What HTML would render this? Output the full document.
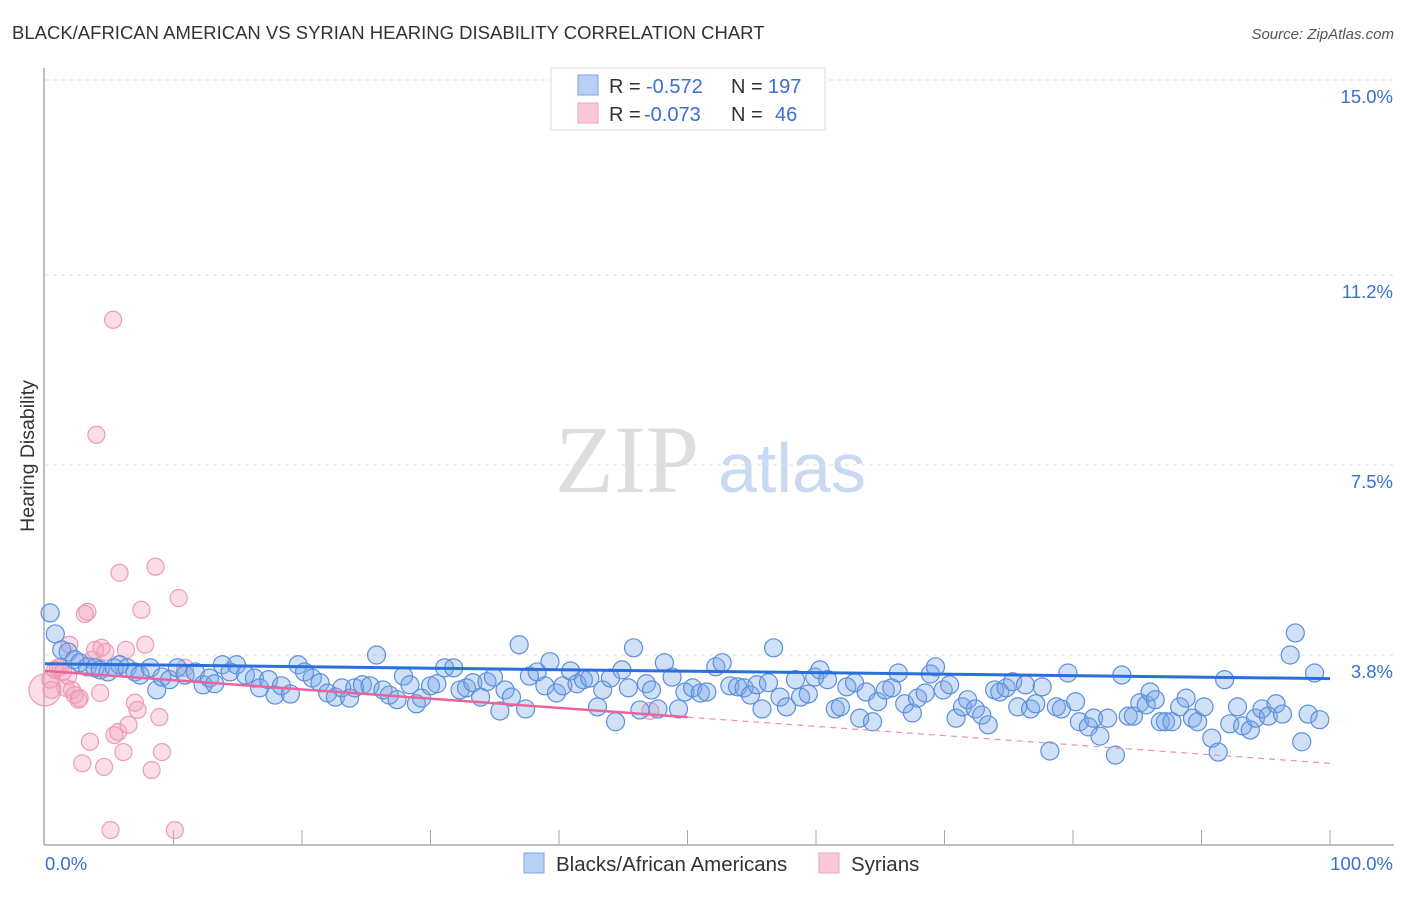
<!DOCTYPE html>
<html><head><meta charset="utf-8"><style>
body{margin:0;background:#fff;font-family:"Liberation Sans",sans-serif}
svg text{font-family:"Liberation Sans",sans-serif}
</style></head><body>
<svg id="chart" width="1406" height="892" xmlns="http://www.w3.org/2000/svg">
<text x="12" y="39" font-size="18.5" fill="#333">BLACK/AFRICAN AMERICAN VS SYRIAN HEARING DISABILITY CORRELATION CHART</text>
<text x="1394" y="39" font-size="15" fill="#555" font-style="italic" text-anchor="end">Source: ZipAtlas.com</text>
<text x="34" y="456" font-size="19.5" fill="#333" text-anchor="middle" transform="rotate(-90 34 456)">Hearing Disability</text>
<g><text x="555" y="492" font-size="96" fill="#ddd" font-family="Liberation Serif" style="font-family:'Liberation Serif',serif">ZIP</text><text x="718" y="492" font-size="70" fill="#c9d9f2">atlas</text></g>
<g id="grid"></g><g id="axes"></g><g id="pink"></g><g id="blue"></g><g id="lines"></g>
<g>
<rect x="551" y="68" width="274" height="62" fill="#fff" stroke="#ddd"/>
<rect x="578" y="75" width="20" height="20" fill="#b7d0f3" stroke="#7ea6e0"/>
<rect x="578" y="103" width="20" height="20" fill="#f9c9d8" stroke="#eea3bc"/>
<text x="609" y="93" font-size="20" fill="#333">R =</text><text x="646" y="93" font-size="20" fill="#3a6fd0">-0.572</text>
<text x="731" y="93" font-size="20" fill="#333">N =</text><text x="768" y="93" font-size="20" fill="#3a6fd0">197</text>
<text x="609" y="121" font-size="20" fill="#333">R =</text><text x="644" y="121" font-size="20" fill="#3a6fd0">-0.073</text>
<text x="731" y="121" font-size="20" fill="#333">N =</text><text x="775" y="121" font-size="20" fill="#3a6fd0">46</text>
</g>
<g>
<rect x="524" y="853" width="20" height="20" fill="#b7d0f3" stroke="#7ea6e0"/>
<text x="556" y="871" font-size="20.5" fill="#333">Blacks/African Americans</text>
<rect x="819" y="853" width="20" height="20" fill="#f9c9d8" stroke="#eea3bc"/>
<text x="851" y="871" font-size="20.5" fill="#333">Syrians</text>
</g>
</svg>
<script>
const yTicks=[15.0,11.2,7.5,3.8];
const yTickLabels=["15.0%","11.2%","7.5%","3.8%"];
const xTickLabels=["0.0%","100.0%"];
const blueX=[0.4,0.8,1.3,1.8,2.3,2.7,3.3,3.9,4.3,4.9,5.4,5.8,6.4,7.0,7.4,8.2,8.7,9.1,9.7,10.3,10.9,11.7,12.3,12.8,13.2,13.8,14.4,14.9,15.6,16.3,16.7,17.4,17.9,18.4,19.1,19.7,20.2,20.8,21.4,22.0,22.6,23.1,23.7,24.1,24.7,25.3,25.8,26.3,26.8,27.4,27.9,28.4,28.9,29.3,30.0,30.5,31.1,31.8,32.3,32.8,33.3,33.9,34.4,34.9,35.4,35.8,36.3,36.9,37.4,37.7,38.3,38.9,39.3,39.8,40.3,40.9,41.4,41.9,42.4,43.0,43.4,44.0,44.4,44.9,45.4,45.8,46.3,46.8,47.2,47.7,48.2,48.8,49.3,49.8,50.4,51.0,51.5,52.2,52.7,53.3,53.9,54.4,54.9,55.4,55.8,56.3,56.7,57.2,57.7,58.4,58.8,59.4,59.9,60.3,60.9,61.5,61.9,62.4,63.0,63.4,63.9,64.4,64.8,65.4,65.9,66.4,66.9,67.5,67.9,68.5,68.9,69.3,69.9,70.4,70.9,71.4,71.8,72.4,72.9,73.4,73.9,74.3,74.8,75.3,75.7,76.3,76.7,77.1,77.6,78.2,78.7,79.1,79.6,80.2,80.5,81.2,81.6,82.1,82.7,83.3,83.8,84.3,84.7,85.2,85.7,86.0,86.4,86.8,87.2,87.7,88.3,88.8,89.3,89.7,90.2,90.8,91.3,91.8,92.2,92.8,93.2,93.8,94.2,94.7,95.2,95.8,96.3,96.9,97.3,97.8,98.3,98.8,99.2];
const blueY=[4.62,4.21,3.90,3.86,3.71,3.65,3.57,3.55,3.51,3.47,3.55,3.61,3.55,3.47,3.41,3.55,3.12,3.37,3.32,3.55,3.41,3.47,3.22,3.35,3.24,3.61,3.47,3.61,3.41,3.35,3.16,3.32,3.02,3.20,3.04,3.61,3.47,3.35,3.26,3.06,2.98,3.16,2.96,3.16,3.22,3.20,3.80,3.12,3.02,2.93,3.39,3.22,2.85,2.96,3.20,3.24,3.55,3.55,3.12,3.16,3.26,2.98,3.28,3.37,2.71,3.12,2.98,4.00,2.75,3.39,3.47,3.20,3.67,3.06,3.20,3.49,3.24,3.32,3.35,2.79,3.12,3.35,2.50,3.51,3.16,3.94,2.73,3.24,3.12,2.75,3.65,3.37,2.75,3.08,3.16,3.06,3.08,3.57,3.65,3.20,3.18,3.16,3.02,3.22,2.75,3.26,3.94,2.98,2.79,3.32,2.98,3.04,3.37,3.51,3.32,2.75,2.79,3.18,3.26,2.57,3.08,2.50,2.89,3.12,3.16,3.45,2.85,2.67,2.96,3.06,3.43,3.57,3.12,3.22,2.57,2.79,2.93,2.75,2.63,2.44,3.12,3.08,3.16,3.28,2.79,3.22,2.75,2.85,3.18,1.93,2.79,2.75,3.45,2.89,2.50,2.40,2.57,2.22,2.57,1.85,3.41,2.61,2.61,2.87,2.83,3.08,2.93,2.50,2.50,2.50,2.79,2.96,2.57,2.50,2.79,2.18,1.91,3.32,2.46,2.79,2.42,2.34,2.57,2.75,2.61,2.85,2.65,3.80,4.23,2.11,2.65,3.45,2.54];
const pinkX=[0.0,0.4,0.5,0.8,1.0,1.2,1.4,1.6,1.8,1.9,2.1,2.3,2.6,2.7,2.9,3.1,3.3,3.5,3.7,3.9,4.0,4.3,4.4,4.6,4.7,5.1,5.3,5.4,5.7,5.8,6.1,6.3,6.5,7.0,7.2,7.5,7.8,8.3,8.6,8.9,9.1,10.1,10.4,10.9,47.1];
const pinkY=[3.12,3.32,3.12,3.51,3.55,3.57,3.47,3.16,3.39,4.00,3.12,3.02,2.93,2.96,1.69,4.60,4.64,2.11,3.71,3.90,8.09,3.06,3.94,1.62,3.86,0.39,10.33,2.24,2.30,5.40,1.91,3.90,2.44,2.87,2.73,4.68,4.00,1.56,5.52,2.59,1.91,0.39,4.91,3.55,2.71];
const blueTrend=[3.63,3.34];
const pinkTrend=[3.49,1.69];
const NS="http://www.w3.org/2000/svg";
const X=v=>45+v*12.85, Y=v=>80+(15-v)*51.34;
function mk(tag,attrs,parent){const e=document.createElementNS(NS,tag);for(const k in attrs)e.setAttribute(k,attrs[k]);document.getElementById(parent).appendChild(e);return e;}
yTicks.forEach((t,i)=>{
 const g=mk('line',{x1:45,x2:1394,y1:Y(t),y2:Y(t),stroke:'#ddd','stroke-dasharray':'4 4'},'grid');
 
 
 const tx=mk('text',{x:1393,y:Y(t)+23,'font-size':18.5,fill:'#3a6fd0','text-anchor':'end'},'grid');
 tx.textContent=yTickLabels[i];
 
 
});
let a=mk('line',{x1:44,x2:44,y1:68,y2:845,stroke:'#aaa','stroke-width':1.5},'axes');


a=mk('line',{x1:44,x2:1394,y1:845,y2:845,stroke:'#aaa','stroke-width':1.5},'axes');


for(let i=1;i<=10;i++){const t=mk('line',{x1:X(i*10),x2:X(i*10),y1:830,y2:845,stroke:'#aaa'},'axes');
 
 }
[[0,45,'start'],[1,1393,'end']].forEach(([i,x,an])=>{const t=mk('text',{x:x,y:870,'font-size':18.5,fill:'#3a6fd0','text-anchor':an},'axes');t.textContent=xTickLabels[i];
 
 });
pinkX.forEach((x,i)=>{const c=mk('circle',{cx:X(x),cy:Y(pinkY[i]),r:i===0?16:8.5,fill:'rgba(244,160,188,0.35)',stroke:'#ec9ab6','stroke-width':1.2},'pink');
 
 });
blueX.forEach((x,i)=>{const c=mk('circle',{cx:X(x),cy:Y(blueY[i]),r:9,fill:'rgba(120,165,230,0.35)',stroke:'#5b8fdc','stroke-width':1.2},'blue');
 
 });
const py=x=>pinkTrend[0]+(pinkTrend[1]-pinkTrend[0])*x/100;
let l=mk('line',{x1:X(50),y1:Y(py(50)),x2:X(100),y2:Y(py(100)),stroke:'#ec8fb0','stroke-width':1.2,'stroke-dasharray':'6 5'},'lines');


l=mk('line',{x1:X(0),y1:Y(py(0)),x2:X(50),y2:Y(py(50)),stroke:'#e8659a','stroke-width':2.5},'lines');


l=mk('line',{x1:X(0),y1:Y(blueTrend[0]),x2:X(100),y2:Y(blueTrend[1]),stroke:'#2a6fdb','stroke-width':3},'lines');


</script>
</body></html>
